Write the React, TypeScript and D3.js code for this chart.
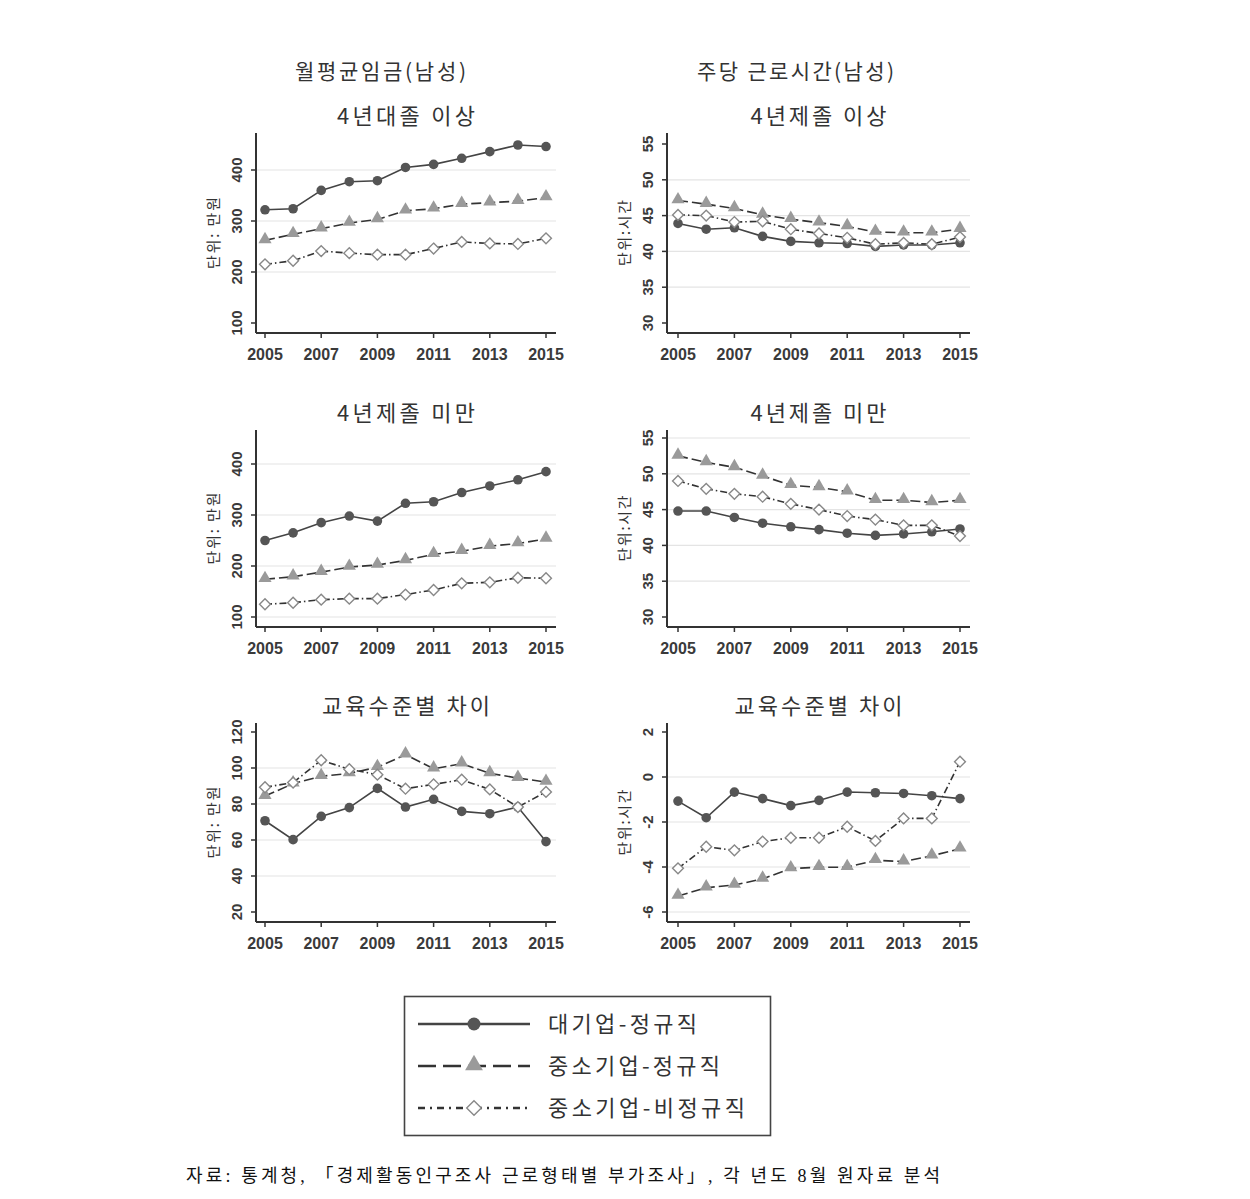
import React from 'react'
import * as d3 from 'd3'

// years on the x axis
const years = [2005, 2006, 2007, 2008, 2009, 2010, 2011, 2012, 2013, 2014, 2015]
const xTicks = [2005, 2007, 2009, 2011, 2013, 2015]

const seriesNames = ['대기업-정규직', '중소기업-정규직', '중소기업-비정규직']

// 월평균임금 - 4년대졸 이상
const wageUnivLarge = [322, 324, 360, 377, 379, 405, 411, 423, 436, 449, 446]
const wageUnivSmall = [262, 274, 285, 296, 303, 320, 324, 333, 336, 339, 346]
const wageUnivTemp = [215, 222, 241, 237, 234, 234, 246, 259, 256, 255, 266]
// 월평균임금 - 4년제졸 미만
const wageLowLarge = [250, 265, 285, 298, 288, 323, 326, 344, 357, 369, 385]
const wageLowSmall = [174, 179, 188, 198, 202, 211, 223, 229, 239, 244, 253]
const wageLowTemp = [125, 128, 134, 136, 136, 144, 153, 166, 168, 177, 176]
// 월평균임금 - 교육수준별 차이
const wageGapLarge = [70.7, 60.2, 73.1, 78, 88.7, 78.3, 82.6, 75.9, 74.6, 78.3, 59.1]
const wageGapSmall = [84.4, 91.3, 95.4, 97, 100.4, 107.4, 99.6, 102.4, 97, 94.4, 92.2]
const wageGapTemp = [89.3, 91.9, 104.3, 99.3, 96.3, 88.5, 90.9, 93.5, 88.1, 78.3, 86.7]

// 주당 근로시간 - 4년제졸 이상
const hourUnivLarge = [43.9, 43.1, 43.3, 42.1, 41.4, 41.2, 41.1, 40.7, 40.9, 40.9, 41.2]
const hourUnivSmall = [47.1, 46.6, 46.0, 45.1, 44.5, 44.0, 43.5, 42.7, 42.6, 42.6, 43.1]
const hourUnivTemp = [45.1, 45.0, 44.1, 44.2, 43.1, 42.5, 41.9, 41.0, 41.2, 41.0, 42.0]
// 주당 근로시간 - 4년제졸 미만
const hourLowLarge = [44.8, 44.8, 43.9, 43.1, 42.6, 42.2, 41.7, 41.4, 41.6, 41.9, 42.3]
const hourLowSmall = [52.5, 51.6, 50.9, 49.7, 48.4, 48.1, 47.5, 46.3, 46.3, 46.0, 46.3]
const hourLowTemp = [49.0, 47.9, 47.2, 46.8, 45.8, 45.0, 44.1, 43.6, 42.8, 42.8, 41.3]
// 주당 근로시간 - 교육수준별 차이
const hourGapLarge = [-1.07, -1.81, -0.67, -0.96, -1.27, -1.04, -0.67, -0.7, -0.73, -0.83, -0.96]
const hourGapSmall = [-5.29, -4.92, -4.8, -4.53, -4.07, -4.01, -4.01, -3.7, -3.76, -3.5, -3.19]
const hourGapTemp = [-4.06, -3.1, -3.26, -2.87, -2.7, -2.7, -2.21, -2.84, -1.84, -1.84, 0.68]

const wageTicks = [100, 200, 300, 400]
const hourTicks = [30, 35, 40, 45, 50, 55]
const wageGapTicks = [20, 40, 60, 80, 100, 120]
const hourGapTicks = [-6, -4, -2, 0, 2]

const colTitles = ['월평균임금(남성)', '주당 근로시간(남성)']
const rowTitlesLeft = ['4년대졸 이상', '4년제졸 미만', '교육수준별 차이']
const rowTitlesRight = ['4년제졸 이상', '4년제졸 미만', '교육수준별 차이']
const source = '자료: 통계청, 「경제활동인구조사 근로형태별 부가조사」, 각 년도 8월 원자료 분석'

const W = 1250
const H = 1199
const cols = [
  { axisX: 256, x0: 265, x1: 546, right: 556, titleX: 380.5, titleW: 171 },
  { axisX: 667, x0: 678, x1: 960, right: 970, titleX: 795.5, titleW: 197 },
]
const rows = [
  { top: 133, bottom: 333 },
  { top: 430, bottom: 627 },
  { top: 723, bottom: 922 },
]

const lineStyles = [
  { stroke: '#444', dash: null, legendDash: null, marker: 'circle' },
  { stroke: '#333', dash: '10,4', legendDash: '18,7', marker: 'triangle' },
  { stroke: '#333', dash: '7,3,1.5,3', legendDash: '7,5,2,5', marker: 'diamond' },
]
const legendTextW = [149, 172, 197]

const panels = [
  { col: 0, row: 0, title: rowTitlesLeft[0], tw: 138, unit: '단위: 만원', ticks: wageTicks, grid: [200, 300, 400], span: 153, data: [wageUnivLarge, wageUnivSmall, wageUnivTemp] },
  { col: 1, row: 0, title: rowTitlesRight[0], tw: 136, unit: '단위:시간', ticks: hourTicks, grid: [35, 40, 45, 50], span: 179, data: [hourUnivLarge, hourUnivSmall, hourUnivTemp] },
  { col: 0, row: 1, title: rowTitlesLeft[1], tw: 138, unit: '단위: 만원', ticks: wageTicks, grid: [100, 200, 300, 400], span: 153, data: [wageLowLarge, wageLowSmall, wageLowTemp] },
  { col: 1, row: 1, title: rowTitlesRight[1], tw: 136, unit: '단위:시간', ticks: hourTicks, grid: [35, 40, 45, 50, 55], span: 179, data: [hourLowLarge, hourLowSmall, hourLowTemp] },
  { col: 0, row: 2, title: rowTitlesLeft[2], tw: 168, unit: '단위: 만원', ticks: wageGapTicks, grid: [40, 60, 80, 100], span: 180, data: [wageGapLarge, wageGapSmall, wageGapTemp] },
  { col: 1, row: 2, title: rowTitlesRight[2], tw: 168, unit: '단위:시간', ticks: hourGapTicks, grid: [-6, -4, -2, 0], span: 180, data: [hourGapLarge, hourGapSmall, hourGapTemp] },
]

const numFont = '"Liberation Sans", Arial, sans-serif'
const korFont = '"Noto Sans CJK KR", "Liberation Sans", sans-serif'

const Marker = ({ kind, x, y, big }: { kind: string; x: number; y: number; big?: boolean }) => {
  const k = big ? 1.35 : 1
  if (kind === 'circle') return <circle cx={x} cy={y} r={4.8 * k} fill="#555" />
  if (kind === 'triangle') {
    const p = d3.symbol().type(d3.symbolTriangle).size(75 * k * k)()
    return <path d={p || ''} transform={`translate(${x},${y - 1})`} fill="#9a9a9a" />
  }
  const p = d3.symbol().type(d3.symbolDiamond2).size(75 * k * k)()
  return <path d={p || ''} transform={`translate(${x},${y})`} fill="#fff" stroke="#888" strokeWidth={1.4} />
}

const Panel = ({ p }: { p: any }) => {
  const c = cols[p.col]
  const r = rows[p.row]
  const lo = p.ticks[0]
  const hi = p.ticks[p.ticks.length - 1]
  const x = d3.scaleLinear().domain([years[0], years[years.length - 1]]).range([c.x0, c.x1])
  const y = d3.scaleLinear().domain([lo, hi]).range([r.bottom - 10, r.bottom - 10 - p.span])
  const line = d3.line<number>().x((_, i) => x(years[i])).y((d) => y(d))
  return (
    <g>
      {p.grid.map((g: number) => (
        <line key={'g' + g} x1={c.axisX + 1} x2={c.right} y1={y(g)} y2={y(g)} stroke="#e4e4e4" strokeWidth={1.2} />
      ))}
      <line x1={c.axisX} x2={c.axisX} y1={r.top} y2={r.bottom} stroke="#333" strokeWidth={2} />
      <line x1={c.axisX} x2={c.right} y1={r.bottom} y2={r.bottom} stroke="#333" strokeWidth={2} />
      {p.ticks.map((t: number) => (
        <g key={'t' + t}>
          <line x1={c.axisX - 5} x2={c.axisX} y1={y(t)} y2={y(t)} stroke="#333" strokeWidth={1.5} />
          <text
            transform={`translate(${c.axisX - 14},${y(t)}) rotate(-90)`}
            textAnchor="middle"
            fontFamily={numFont}
            fontWeight="bold"
            fontSize={15}
            fill="#3a3a3a"
          >
            {t}
          </text>
        </g>
      ))}
      {xTicks.map((t) => (
        <g key={'x' + t}>
          <line x1={x(t)} x2={x(t)} y1={r.bottom} y2={r.bottom + 5} stroke="#333" strokeWidth={1.5} />
          <text x={x(t)} y={r.bottom + 27} textAnchor="middle" fontFamily={numFont} fontWeight="bold" fontSize={16} fill="#3a3a3a">
            {t}
          </text>
        </g>
      ))}
      <text
        transform={`translate(${c.axisX - 37},${(r.top + r.bottom) / 2}) rotate(-90)`}
        textAnchor="middle"
        fontFamily={korFont}
        fontSize={15}
        fill="#333"
        textLength={p.unit.length > 5 ? 72 : 66}
        lengthAdjust="spacing"
      >
        {p.unit}
      </text>
      <text
        x={(c.axisX + c.right) / 2 - p.tw / 2}
        y={r.top - 9}
        fontFamily={korFont}
        fontSize={22}
        fill="#333"
        textLength={p.tw}
        lengthAdjust="spacing"
      >
        {p.title}
      </text>
      {p.data.map((s: number[], si: number) => (
        <path
          key={'l' + si}
          d={line(s) || ''}
          fill="none"
          stroke={lineStyles[si].stroke}
          strokeWidth={1.6}
          strokeDasharray={lineStyles[si].dash || undefined}
        />
      ))}
      {p.data.map((s: number[], si: number) =>
        s.map((v, i) => <Marker key={'m' + si + '-' + i} kind={lineStyles[si].marker} x={x(years[i])} y={y(v)} />)
      )}
    </g>
  )
}

const Legend = () => {
  const top = 996
  const rowY = [1024, 1066, 1108]
  return (
    <g>
      <rect x={404.5} y={top + 0.5} width={366} height={139} fill="#fff" stroke="#444" strokeWidth={1.6} />
      {seriesNames.map((n, i) => (
        <g key={n}>
          <line
            x1={418}
            x2={530}
            y1={rowY[i]}
            y2={rowY[i]}
            stroke={lineStyles[i].stroke}
            strokeWidth={2.4}
            strokeDasharray={lineStyles[i].legendDash || undefined}
          />
          <Marker kind={lineStyles[i].marker} x={474} y={rowY[i]} big />
          <text
            x={548}
            y={rowY[i] + 8}
            fontFamily={korFont}
            fontSize={22}
            fill="#333"
            textLength={legendTextW[i]}
            lengthAdjust="spacing"
          >
            {n}
          </text>
        </g>
      ))}
    </g>
  )
}

export default function App() {
  return (
    <svg width={W} height={H} viewBox={`0 0 ${W} ${H}`} style={{ position: 'absolute', left: 0, top: 0, background: '#fff' }}>
      <rect width={W} height={H} fill="#fff" />
      {colTitles.map((t, i) => (
        <text
          key={t}
          x={cols[i].titleX - cols[i].titleW / 2}
          y={79}
          fontFamily={korFont}
          fontSize={21}
          fill="#333"
          textLength={cols[i].titleW}
          lengthAdjust="spacing"
        >
          {t}
        </text>
      ))}
      {panels.map((p, i) => (
        <Panel key={i} p={p} />
      ))}
      <Legend />
      <text
        x={186}
        y={1182}
        fontFamily='"Liberation Serif", "Noto Sans CJK KR", serif'
        fontSize={18}
        fill="#111"
        textLength={754}
        lengthAdjust="spacing"
      >
        {source}
      </text>
    </svg>
  )
}
